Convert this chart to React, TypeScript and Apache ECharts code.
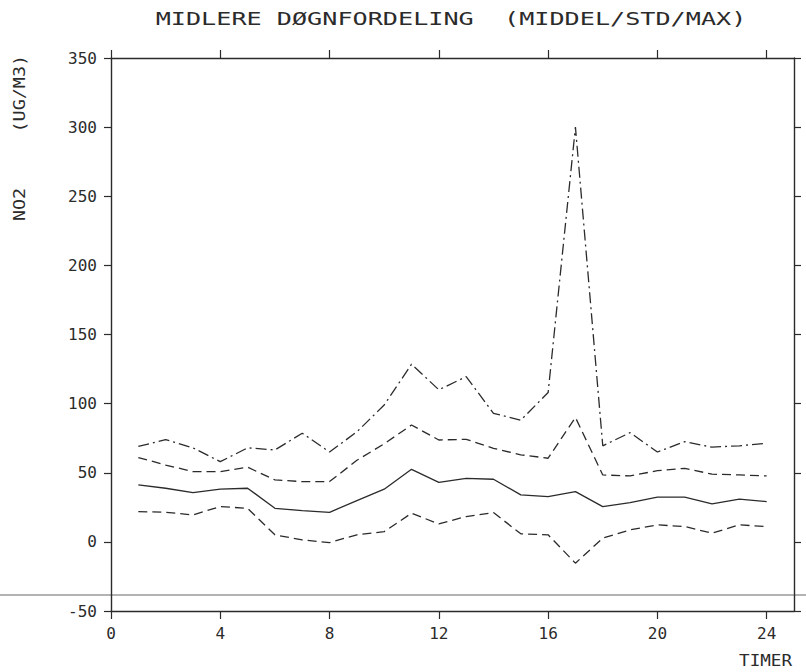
import React, { useEffect, useRef } from "react";
import * as echarts from "echarts";

const hours = [1, 2, 3, 4, 5, 6, 7, 8, 9, 10, 11, 12, 13, 14, 15, 16, 17, 18, 19, 20, 21, 22, 23, 24];
const maxValues = [69, 74, 68, 58, 68, 66.5, 78.6, 65, 79.6, 99, 128.5, 110, 119.5, 93, 88, 108, 300, 69.5, 79, 65, 72.5, 68.5, 69.5, 71.3];
const upperStd = [61, 55.6, 50.8, 50.8, 54, 44.8, 43.6, 43.6, 59, 71, 84.5, 73.7, 74.2, 67.7, 63, 60.5, 90, 48.4, 47.7, 51.5, 53.2, 49, 48.4, 47.7];
const meanValues = [41.2, 38.8, 35.6, 38.1, 38.8, 24.3, 22.6, 21.4, 29.9, 38.1, 52.5, 43.1, 46, 45.3, 34, 32.7, 36.3, 25.5, 28.4, 32.3, 32.3, 27.5, 30.9, 29.1];
const lowerStd = [21.9, 21.4, 19.5, 25.5, 24.3, 5.1, 1.4, -0.5, 5.1, 7.4, 20.7, 13, 18.3, 21.2, 5.8, 5.1, -15.4, 2.7, 8.7, 12.3, 11.1, 6.3, 12.3, 11.1];
const xTickValues = [0, 4, 8, 12, 16, 20, 24];
const title = "MIDLERE DØGNFORDELING  (MIDDEL/STD/MAX)";
const yName = "NO2     (UG/M3)";
const xName = "TIMER";

const INK = "#2b2b2b";
const FONT = "DejaVu Sans Mono";

export default function App() {
  const ref = useRef<HTMLDivElement>(null);
  useEffect(() => {
    if (!ref.current) return;
    const chart = echarts.init(ref.current, undefined, { renderer: "svg" });
    const pair = (arr: number[]) => hours.map((h, i) => [h, arr[i]]);
    const lineSeries = (name: string, arr: number[], type: any) => ({
      name,
      type: "line",
      data: pair(arr),
      symbol: "none",
      lineStyle: { color: INK, width: 1.3, type },
      xAxisIndex: 0,
      yAxisIndex: 0,
    });
    const axisLine = { show: true, onZero: false, lineStyle: { color: INK, width: 1.4 } };
    chart.setOption({
      animation: false,
      backgroundColor: "#ffffff",
      grid: { left: 111, top: 58, right: 12, bottom: 61 },
      xAxis: [
        {
          type: "value",
          position: "bottom",
          min: 0,
          max: 25,
          interval: 4,
          axisLine,
          axisTick: { show: true, length: 8, inside: false, customValues: xTickValues, lineStyle: { color: INK, width: 1.2 } },
          axisLabel: { show: true, margin: 14, customValues: xTickValues, color: INK, fontFamily: FONT, fontSize: 16 },
          splitLine: { show: false },
        },
        {
          type: "value",
          position: "top",
          min: 0,
          max: 25,
          interval: 4,
          axisLine,
          axisTick: { show: true, length: 8, inside: false, customValues: xTickValues, lineStyle: { color: INK, width: 1.2 } },
          axisLabel: { show: false },
          splitLine: { show: false },
        },
      ],
      yAxis: [
        {
          type: "value",
          position: "left",
          min: -50,
          max: 350,
          interval: 50,
          axisLine,
          axisTick: { show: true, length: 7, inside: false, lineStyle: { color: INK, width: 1.2 } },
          axisLabel: { show: true, margin: 14, color: INK, fontFamily: FONT, fontSize: 16 },
          splitLine: { show: false },
        },
        {
          type: "value",
          position: "right",
          min: -50,
          max: 350,
          interval: 50,
          axisLine,
          axisTick: { show: true, length: 7, inside: false, lineStyle: { color: INK, width: 1.2 } },
          axisLabel: { show: false },
          splitLine: { show: false },
        },
      ],
      series: [
        lineSeries("MAX", maxValues, [11, 4, 2, 4]),
        lineSeries("MIDDEL+STD", upperStd, [9, 5]),
        lineSeries("MIDDEL", meanValues, "solid"),
        lineSeries("MIDDEL-STD", lowerStd, [9, 5]),
      ],
      graphic: [
        {
          type: "text",
          x: 451,
          y: 19,
          scaleX: 1.48,
          style: { text: title, fill: INK, font: `17px "${FONT}"`, textAlign: "center", textVerticalAlign: "middle" },
        },
        {
          type: "text",
          x: 19,
          y: 138,
          rotation: Math.PI / 2,
          scaleX: 1.15,
          style: { text: yName, fill: INK, font: `16px "${FONT}"`, textAlign: "center", textVerticalAlign: "middle" },
        },
        {
          type: "text",
          x: 792,
          y: 660,
          scaleX: 1.1,
          style: { text: xName, fill: INK, font: `16px "${FONT}"`, textAlign: "right", textVerticalAlign: "middle" },
        },
        {
          type: "line",
          shape: { x1: 0, y1: 595, x2: 806, y2: 595 },
          style: { stroke: "#9a9a9a", lineWidth: 1.6 },
          silent: true,
        },
      ],
    });
    return () => chart.dispose();
  }, []);
  return <div ref={ref} style={{ position: "absolute", left: 0, top: 0, width: 806, height: 672 }} />;
}
